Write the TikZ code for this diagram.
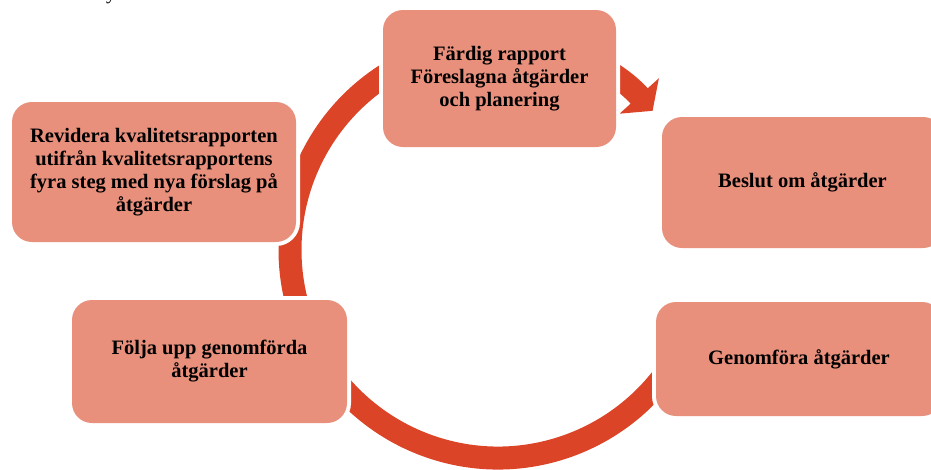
\documentclass[tikz,border=0pt]{standalone}
\usepackage{fontspec}
\setmainfont{Liberation Serif}
\usetikzlibrary{arrows.meta}
\definecolor{boxfill}{HTML}{E9907D}
\definecolor{ringred}{HTML}{DC4428}
\tikzset{
    stagebox/.style={rectangle, rounded corners=20pt, fill=boxfill, preaction={draw=white, line width=8pt}, align=center, inner sep=0pt, font=\bfseries\fontsize{20.5}{23}\selectfont},
    ringarc/.style={draw=ringred, line width=23pt}
}
\begin{document}
\begin{tikzpicture}[x=1pt, y=-1pt]
        \useasboundingbox (0,0) rectangle (931,469);
        \coordinate (ring) at (498,250);
        \node[anchor=base, font=\fontsize{20}{24}\selectfont] (frag) at (111,-1) {y};
        \draw[ringarc] (ring) ++(150:208) arc[start angle=150, end angle=265, radius=208];
        \draw[ringarc] (ring) ++(20:208) arc[start angle=20, end angle=155, radius=208];
        \draw[ringarc, -{Triangle[width=52pt, length=20pt]}] (ring) ++(262:208) arc[start angle=262, end angle=318, radius=208];
        \node[stagebox, minimum width=233pt, minimum height=137pt] (rapport) at (499.5,78.5) {Färdig rapport\\Föreslagna åtgärder\\och planering};
        \node[stagebox, minimum width=281pt, minimum height=131pt] (beslut) at (802.5,182.5) {Beslut om åtgärder};
        \node[stagebox, minimum width=286pt, minimum height=114pt] (genomfora) at (799,359) {Genomföra åtgärder};
        \node[stagebox, minimum width=275pt, minimum height=123pt] (folja) at (209.5,361.5) {Följa upp genomförda\\åtgärder};
        \node[stagebox, minimum width=284pt, minimum height=140pt] (revidera) at (154,172) {Revidera kvalitetsrapporten\\utifrån kvalitetsrapportens\\fyra steg med nya förslag på\\åtgärder};
    \end{tikzpicture}
\end{document}
